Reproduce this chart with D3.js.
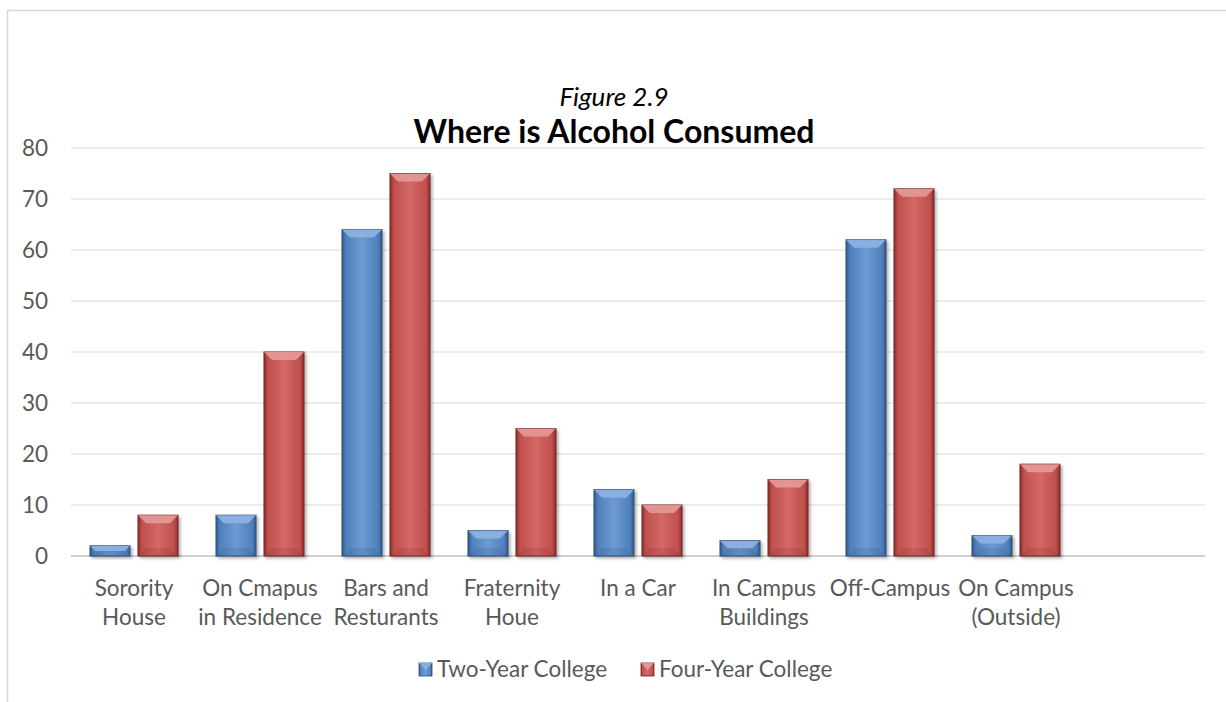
<!DOCTYPE html>
<html><head><meta charset="utf-8">
<script src="https://cdn.jsdelivr.net/npm/d3@7"></script>
<style>body{margin:0;background:#fff;} text{font-family:Lato,"Open Sans",sans-serif;}</style>
</head><body>
<svg id="c" width="1226" height="702"></svg>
<script>
const categories = [["Sorority","House"],["On Cmapus","in Residence"],["Bars and","Resturants"],["Fraternity","Houe"],["In a Car"],["In Campus","Buildings"],["Off-Campus"],["On Campus","(Outside)"],[""]];
const seriesNames = ["Two-Year College","Four-Year College"];
const twoYear = [2,8,64,5,13,3,62,4,null];
const fourYear = [8,40,75,25,10,15,72,18,null];
const yTicks = [0,10,20,30,40,50,60,70,80];

(function(){
const svg = d3.select("#c");
const FONT="Lato,'Open Sans',sans-serif";
const LBL=22.5;
const pLeft=71,pRight=1205,pTop=148,pBottom=556;
const defs = svg.append("defs");
const pal = [{base:"#4F81BD",light:"#6E9AD2",dark:"#34598C",edge:"#2A4A73",bev:"#8FB3E2"},
             {base:"#C0504D",light:"#D46966",dark:"#8E2F2D",edge:"#6E2422",bev:"#E39A98"}];
pal.forEach((p,i)=>{
  const g=defs.append("linearGradient").attr("id","g"+i).attr("x1",0).attr("x2",1).attr("y1",0).attr("y2",0);
  g.append("stop").attr("offset","0%").attr("stop-color",p.dark);
  g.append("stop").attr("offset","10%").attr("stop-color",p.base);
  g.append("stop").attr("offset","50%").attr("stop-color",p.light);
  g.append("stop").attr("offset","90%").attr("stop-color",p.base);
  g.append("stop").attr("offset","100%").attr("stop-color",p.dark);
});
const f=defs.append("filter").attr("id","sh").attr("x","-20%").attr("y","-20%").attr("width","150%").attr("height","150%");
f.append("feDropShadow").attr("dx",2).attr("dy",2).attr("stdDeviation",1.5).attr("flood-color","#000").attr("flood-opacity",0.3);

// border
svg.append("path").attr("d",`M7.5,702 L7.5,10.5 L1226,10.5`).attr("fill","none").attr("stroke","#d9d9d9").attr("stroke-width",1.5);

const x = d3.scaleBand().domain(d3.range(categories.length)).range([pLeft,pRight]).paddingInner(0).paddingOuter(0);
const y = d3.scaleLinear().domain([0,80]).range([pBottom,pTop]);

// gridlines
svg.append("g").selectAll("line").data(yTicks).join("line")
  .attr("x1",pLeft).attr("x2",pRight).attr("y1",d=>y(d)).attr("y2",d=>y(d))
  .attr("stroke",d=>d===0?"#d0d0d0":"#d9d9d9").attr("stroke-width",d=>d===0?2:1.2);

// y axis
const ya = svg.append("g").attr("transform",`translate(${pLeft},0)`)
  .call(d3.axisLeft(y).tickValues(yTicks).tickSize(0).tickPadding(23));
ya.select(".domain").remove();
ya.selectAll("text").attr("font-size",LBL).attr("fill","#595959").style("font-family",FONT).attr("dy","0.35em");

const bw = 40, gap = 8;
const off0=(x.bandwidth()-2*bw-gap)/2;
const sub = d3.scaleOrdinal().domain([0,1]).range([off0,off0+bw+gap]);
const series=[twoYear,fourYear];
series.forEach((vals,si)=>{
  const p=pal[si];
  const g=svg.append("g");
  vals.forEach((v,ci)=>{
    if(v==null) return;
    const x0=x(ci)+sub(si), y0=y(v), h=y(0)-y(v);
    const bg=g.append("g").attr("filter","url(#sh)");
    bg.append("rect").attr("x",x0).attr("y",y0).attr("width",bw).attr("height",h).attr("fill",`url(#g${si})`).attr("stroke",p.edge).attr("stroke-width",1);
    const b=Math.min(8,h/2);
    bg.append("path").attr("d",`M${x0},${y0} L${x0+bw},${y0} L${x0+bw-b},${y0+b} L${x0+b},${y0+b} Z`).attr("fill",p.bev).attr("opacity",0.9);
    bg.append("path").attr("d",`M${x0},${y0+h} L${x0+b},${y0+h-b} L${x0+bw-b},${y0+h-b} L${x0+bw},${y0+h} Z`).attr("fill",p.dark).attr("opacity",0.2);
  });
});

// x labels
const xl=svg.append("g");
categories.forEach((lines,ci)=>{
  const cx=x(ci)+x.bandwidth()/2;
  const t=xl.append("text").attr("x",cx).attr("y",596).attr("text-anchor","middle").attr("font-size",LBL).attr("fill","#595959");
  lines.forEach((l,li)=>t.append("tspan").attr("x",cx).attr("dy",li===0?0:29).text(l));
});

// title
svg.append("text").attr("x",614).attr("y",106).attr("text-anchor","middle").attr("font-size",26).attr("font-style","italic").attr("fill","#000").text("Figure 2.9");
svg.append("text").attr("x",614).attr("y",143).attr("text-anchor","middle").attr("font-size",32).attr("font-weight","bold").attr("fill","#000").text("Where is Alcohol Consumed");

// legend
const legX=[419,641];
seriesNames.forEach((n,i)=>{
  const p=pal[i];
  const lg=svg.append("g");
  lg.append("rect").attr("x",legX[i]).attr("y",663).attr("width",13).attr("height",13).attr("fill",`url(#g${i})`).attr("stroke",p.edge).attr("stroke-width",0.8);
  lg.append("path").attr("d",`M${legX[i]},663 L${legX[i]+13},663 L${legX[i]+6.5},670 Z`).attr("fill",p.bev).attr("opacity",0.9);
  lg.append("text").attr("x",legX[i]+18).attr("y",677).attr("font-size",LBL).attr("fill","#595959").text(n);
});
})();
</script>
</body></html>
